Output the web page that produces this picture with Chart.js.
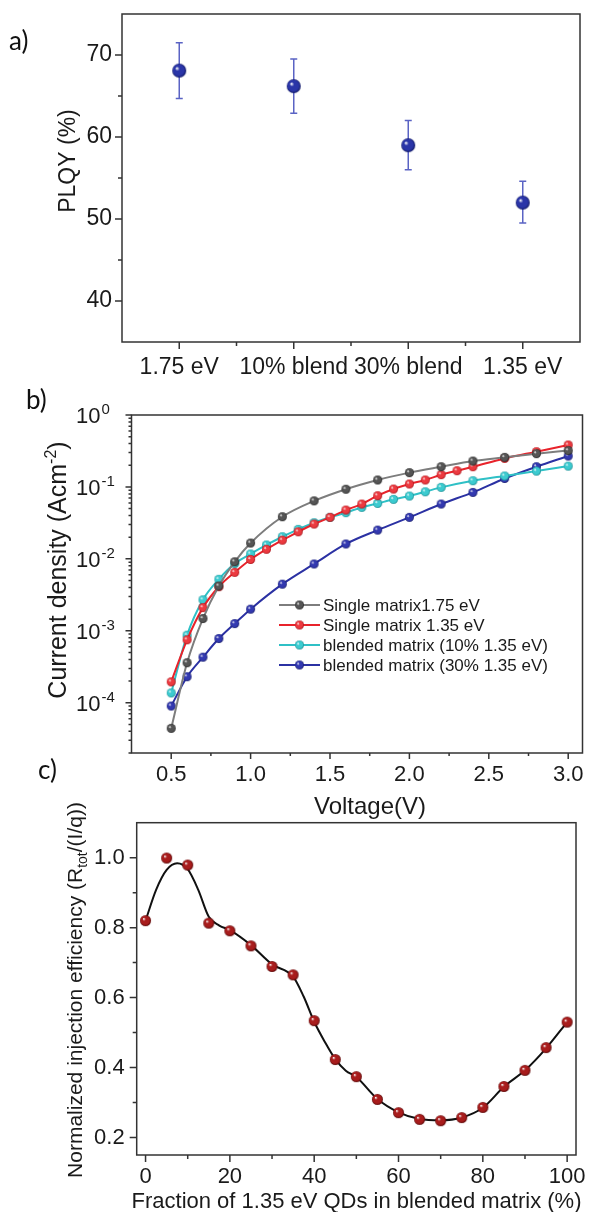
<!DOCTYPE html>
<html>
<head>
<meta charset="utf-8">
<script src="https://cdn.jsdelivr.net/npm/chart.js@4.4.1/dist/chart.umd.min.js"></script>
<style>
  body { margin: 0; background: #fff; }
  #page { position: relative; width: 592px; height: 1212px; overflow: hidden; }
  canvas { position: absolute; left: 0; }
  .tag { position: absolute; font-family: Lato, 'Open Sans', sans-serif; font-size: 26px; line-height: 26px; color: #111; }
</style>
</head>
<body>
<div id="page">
  <canvas id="chartA" width="592" height="395" style="top:0"></canvas>
  <canvas id="chartB" width="592" height="425" style="top:395px"></canvas>
  <canvas id="chartC" width="592" height="427" style="top:785px"></canvas>
  <div class="tag" style="left:9px;top:27px">a)</div>
  <div class="tag" style="left:26px;top:386px">b)</div>
  <div class="tag" style="left:38px;top:756px">c)</div>
</div>
<script>
// ---- panel a: PLQY ----
const plqyLabels = ['1.75 eV', '10% blend', '30% blend', '1.35 eV'];
const plqyValues = [68.1, 66.2, 59.0, 52.0];
const plqyErrLow = [64.7, 62.9, 56.0, 49.5];
const plqyErrHigh = [71.5, 69.5, 62.0, 54.6];
const plqyTicks = [40, 50, 60, 70];

// ---- panel b: J-V curves ----
const voltsGray = [0.5, 0.6, 0.7, 0.8, 0.9, 1.0, 1.2, 1.4, 1.6, 1.8, 2.0, 2.2, 2.4, 2.6, 2.8, 3.0];
const jGray = [4.4e-5, 3.6e-4, 1.48e-3, 4.2e-3, 9.1e-3, 0.0166, 0.0385, 0.064, 0.093, 0.125, 0.158, 0.191, 0.229, 0.258, 0.29, 0.32];
const voltsRed = [0.5, 0.6, 0.7, 0.8, 0.9, 1.0, 1.1, 1.2, 1.3, 1.4, 1.5, 1.6, 1.7, 1.8, 1.9, 2.0, 2.1, 2.2, 2.3, 2.4, 2.6, 2.8, 3.0];
const jRed = [1.95e-4, 7.5e-4, 2.1e-3, 4.1e-3, 6.5e-3, 9.8e-3, 0.0136, 0.0182, 0.0238, 0.0305, 0.0378, 0.0477, 0.0578, 0.0755, 0.0935, 0.110, 0.125, 0.148, 0.168, 0.191, 0.249, 0.309, 0.383];
const voltsCyan = [0.5, 0.6, 0.7, 0.8, 0.9, 1.0, 1.1, 1.2, 1.3, 1.4, 1.5, 1.6, 1.7, 1.8, 1.9, 2.0, 2.1, 2.2, 2.4, 2.6, 2.8, 3.0];
const jCyan = [1.37e-4, 8.7e-4, 2.7e-3, 5.2e-3, 8.6e-3, 0.0117, 0.0156, 0.0203, 0.0257, 0.0318, 0.0378, 0.0439, 0.052, 0.059, 0.0672, 0.0747, 0.0857, 0.0986, 0.122, 0.142, 0.166, 0.195];
const voltsBlue = [0.5, 0.6, 0.7, 0.8, 0.9, 1.0, 1.2, 1.4, 1.6, 1.8, 2.0, 2.2, 2.4, 2.6, 2.8, 3.0];
const jBlue = [9.0e-5, 2.3e-4, 4.3e-4, 7.8e-4, 1.26e-3, 2.0e-3, 4.45e-3, 8.5e-3, 0.0161, 0.0251, 0.0378, 0.0578, 0.084, 0.131, 0.191, 0.269];
const jvLegend = ['Single matrix1.75 eV', 'Single matrix 1.35 eV', 'blended matrix (10% 1.35 eV)', 'blended matrix (30% 1.35 eV)'];
const voltTicks = [0.5, 1.0, 1.5, 2.0, 2.5, 3.0];
const decadeExps = [-4, -3, -2, -1, 0];

// ---- panel c: injection efficiency ----
const fraction = [0, 5, 10, 15, 20, 25, 30, 35, 40, 45, 50, 55, 60, 65, 70, 75, 80, 85, 90, 95, 100];
const efficiency = [0.820, 0.999, 0.979, 0.813, 0.791, 0.748, 0.689, 0.665, 0.534, 0.423, 0.374, 0.309, 0.271, 0.252, 0.248, 0.257, 0.286, 0.346, 0.392, 0.457, 0.530];
const fitX = [0, 2.5, 5, 7.5, 10, 12.5, 15, 17.5, 20, 25, 30, 35, 37.5, 40, 42.5, 45, 47.5, 50, 55, 60, 65, 70, 75, 80, 85, 90, 95, 100];
const fitY = [0.82, 0.908, 0.965, 0.984, 0.967, 0.908, 0.831, 0.806, 0.793, 0.75, 0.695, 0.66, 0.603, 0.531, 0.474, 0.424, 0.391, 0.373, 0.31, 0.272, 0.253, 0.249, 0.257, 0.285, 0.345, 0.392, 0.455, 0.530];
const effTicks = [0.2, 0.4, 0.6, 0.8, 1.0];
const fracTicks = [0, 20, 40, 60, 80, 100];

const FONT = "'Liberation Sans', Arial, sans-serif";
const TEXT = '#1a1a1a';
const AXIS = '#333';

// little shaded ball used as marker
function sphere(r, base, dark) {
  const c = document.createElement('canvas');
  const s = Math.ceil(2 * r + 2);
  c.width = c.height = s;
  const g = c.getContext('2d');
  const m = s / 2;
  const grad = g.createRadialGradient(m - r * 0.35, m - r * 0.35, r * 0.05, m, m, r);
  grad.addColorStop(0, '#ffffff');
  grad.addColorStop(0.28, base);
  grad.addColorStop(0.75, base);
  grad.addColorStop(1, dark);
  g.fillStyle = grad;
  g.beginPath();
  g.arc(m, m, r, 0, Math.PI * 2);
  g.fill();
  return c;
}

function drawRich(ctx, parts, cx, cy, rot) {
  ctx.save();
  ctx.translate(cx, cy);
  ctx.rotate(rot || 0);
  ctx.fillStyle = TEXT;
  ctx.textAlign = 'left';
  ctx.textBaseline = 'alphabetic';
  const widths = parts.map(p => { ctx.font = p.size + 'px ' + FONT; return ctx.measureText(p.text).width; });
  let x = -widths.reduce((a, b) => a + b, 0) / 2;
  const base = parts[0].size * 0.358;
  parts.forEach((p, i) => {
    ctx.font = p.size + 'px ' + FONT;
    ctx.fillText(p.text, x, base + (p.dy || 0));
    x += widths[i];
  });
  ctx.restore();
}

function titles(items) {
  return {
    id: 'richTitles',
    afterDraw(chart) { items.forEach(it => drawRich(chart.ctx, it.parts, it.x, it.y, it.rot)); }
  };
}

// box round the plot plus outward major / minor ticks
function frame(spec) {
  return {
    id: 'frame',
    afterDraw(chart) {
      const { ctx, chartArea: a } = chart;
      const xs = chart.scales.x, ys = chart.scales.y;
      ctx.save();
      ctx.strokeStyle = AXIS;
      ctx.lineWidth = 1.5;
      ctx.strokeRect(a.left, a.top, a.right - a.left, a.bottom - a.top);
      ctx.beginPath();
      const tx = (vals, len) => vals.forEach(v => { const p = xs.getPixelForValue(v); ctx.moveTo(p, a.bottom); ctx.lineTo(p, a.bottom + len); });
      const ty = (vals, len) => vals.forEach(v => { const p = ys.getPixelForValue(v); ctx.moveTo(a.left, p); ctx.lineTo(a.left - len, p); });
      tx(spec.xMajor, spec.major); tx(spec.xMinor, spec.minor);
      ty(spec.yMajor, spec.major); ty(spec.yMinor, spec.minor);
      ctx.stroke();
      ctx.restore();
    }
  };
}

// fixed axis boxes so the plot area lands where the figure has it
const fitX_ = h => s => { s.height = h; s.paddingLeft = 0; s.paddingRight = 0; };
const fitY_ = w => s => { s.width = w; s.paddingTop = 0; s.paddingBottom = 0; };

const baseOpts = { responsive: false, animation: false, events: [], devicePixelRatio: 1 };
const noGrid = { display: false, drawTicks: false };
const tickFont = size => ({ family: FONT, size: size });

// ---------------- chart a ----------------
const blueBall = sphere(7, '#2a35a8', '#121a66');
const errorBars = {
  id: 'errorBars',
  beforeDatasetsDraw(chart) {
    const { ctx } = chart;
    const xs = chart.scales.x, ys = chart.scales.y;
    ctx.save();
    ctx.strokeStyle = '#5a63c4';
    ctx.lineWidth = 1.5;
    ctx.beginPath();
    plqyValues.forEach((v, i) => {
      const px = xs.getPixelForValue(i);
      const top = ys.getPixelForValue(plqyErrHigh[i]);
      const bot = ys.getPixelForValue(plqyErrLow[i]);
      ctx.moveTo(px, top); ctx.lineTo(px, bot);
      ctx.moveTo(px - 3.5, top); ctx.lineTo(px + 3.5, top);
      ctx.moveTo(px - 3.5, bot); ctx.lineTo(px + 3.5, bot);
    });
    ctx.stroke();
    ctx.restore();
  }
};

new Chart(document.getElementById('chartA'), {
  type: 'line',
  data: {
    labels: plqyLabels,
    datasets: [{ data: plqyValues, showLine: false, pointStyle: blueBall, pointRadius: 7 }]
  },
  options: {
    ...baseOpts,
    layout: { padding: { top: 14, right: 12, left: 0, bottom: 0 } },
    plugins: { legend: { display: false }, tooltip: { enabled: false } },
    scales: {
      x: {
        type: 'category', offset: true, grid: noGrid, border: { display: false },
        ticks: { font: tickFont(23), color: TEXT, padding: 12, maxRotation: 0, autoSkip: false },
        afterFit: fitX_(395 - 342)
      },
      y: {
        min: 35, max: 75, grid: noGrid, border: { display: false },
        ticks: { font: tickFont(23), color: TEXT, padding: 10 },
        afterBuildTicks: s => { s.ticks = plqyTicks.map(v => ({ value: v })); },
        afterFit: fitY_(122)
      }
    }
  },
  plugins: [
    errorBars,
    frame({ xMajor: [0, 1, 2, 3], xMinor: [0.5, 1.5, 2.5], yMajor: plqyTicks, yMinor: [45, 55, 65], major: 7, minor: 4 }),
    titles([{ parts: [{ text: 'PLQY (%)', size: 23 }], x: 67, y: 161, rot: -Math.PI / 2 }])
  ]
});

// ---------------- chart b ----------------
const jvSets = [
  { x: voltsGray, y: jGray, line: '#7d7d7d', ball: sphere(4.5, '#555555', '#222222') },
  { x: voltsRed, y: jRed, line: '#e8232b', ball: sphere(4.5, '#ec3a40', '#a80f15') },
  { x: voltsCyan, y: jCyan, line: '#2fc0c6', ball: sphere(4.5, '#3ccbd0', '#168a90') },
  { x: voltsBlue, y: jBlue, line: '#2b31a3', ball: sphere(4.5, '#3339b0', '#151a6a') }
];

const logLabels = {
  id: 'logLabels',
  afterDraw(chart) {
    const { ctx } = chart;
    const ys = chart.scales.y;
    ctx.save();
    ctx.fillStyle = TEXT;
    ctx.textBaseline = 'alphabetic';
    ctx.textAlign = 'left';
    decadeExps.forEach(e => {
      const py = ys.getPixelForValue(Math.pow(10, e));
      ctx.font = '22px ' + FONT;
      ctx.fillText('10', 76, py + 8);
      const w = ctx.measureText('10').width;
      ctx.font = '15px ' + FONT;
      ctx.fillText(e === 0 ? '0' : '-' + (-e), 76 + w + 1, py - 1);
    });
    ctx.restore();
  }
};

const jvLegendPlugin = {
  id: 'jvLegend',
  afterDraw(chart) {
    const { ctx } = chart;
    ctx.save();
    chart.data.datasets.forEach((ds, i) => {
      const y = 210 + i * 20;
      ctx.strokeStyle = ds.borderColor;
      ctx.lineWidth = 2;
      ctx.beginPath(); ctx.moveTo(279, y); ctx.lineTo(320, y); ctx.stroke();
      const img = ds.pointStyle;
      ctx.drawImage(img, 299.5 - img.width / 2, y - img.height / 2);
      ctx.fillStyle = TEXT;
      ctx.font = '17px ' + FONT;
      ctx.textBaseline = 'middle';
      ctx.fillText(jvLegend[i], 323, y + 1);
    });
    ctx.restore();
  }
};

const minorLog = [];
[-5, -4, -3, -2, -1].forEach(e => { for (let k = 2; k <= 9; k++) { const v = k * Math.pow(10, e); if (v >= 2e-5) minorLog.push(v); } });

new Chart(document.getElementById('chartB'), {
  type: 'scatter',
  data: {
    datasets: jvSets.map(s => ({
      data: s.x.map((v, i) => ({ x: v, y: s.y[i] })),
      showLine: true, borderColor: s.line, borderWidth: 2,
      cubicInterpolationMode: 'monotone',
      pointStyle: s.ball, pointRadius: 4.5
    }))
  },
  options: {
    ...baseOpts,
    layout: { padding: { top: 20, right: 9.5, left: 0, bottom: 0 } },
    plugins: { legend: { display: false }, tooltip: { enabled: false } },
    scales: {
      x: {
        type: 'linear', min: 0.25, max: 3.09, grid: noGrid, border: { display: false },
        ticks: { font: tickFont(22), color: TEXT, padding: 9, maxRotation: 0, callback: v => Number(v).toFixed(1) },
        afterBuildTicks: s => { s.ticks = voltTicks.map(v => ({ value: v })); },
        afterFit: fitX_(425 - 358)
      },
      y: {
        type: 'logarithmic', min: 2e-5, max: 1, grid: noGrid, border: { display: false },
        ticks: { display: false },
        afterBuildTicks: s => { s.ticks = decadeExps.map(e => ({ value: Math.pow(10, e) })); },
        afterFit: fitY_(131.5)
      }
    }
  },
  plugins: [
    frame({ xMajor: voltTicks, xMinor: [0.75, 1.25, 1.75, 2.25, 2.75], yMajor: decadeExps.map(e => Math.pow(10, e)), yMinor: minorLog, major: 6, minor: 3 }),
    logLabels,
    jvLegendPlugin,
    titles([
      { parts: [{ text: 'Current density (Acm', size: 25 }, { text: '-2', size: 16, dy: -10 }, { text: ')', size: 25 }], x: 57.5, y: 175, rot: -Math.PI / 2 },
      { parts: [{ text: 'Voltage(V)', size: 24 }], x: 370, y: 410.5 }
    ])
  ]
});

// ---------------- chart c ----------------
const redBall = sphere(5.5, '#a81c1c', '#5a0707');

new Chart(document.getElementById('chartC'), {
  type: 'scatter',
  data: {
    datasets: [
      { data: fraction.map((f, i) => ({ x: f, y: efficiency[i] })), pointStyle: redBall, pointRadius: 5.5, order: 0 },
      { data: fitX.map((f, i) => ({ x: f, y: fitY[i] })), showLine: true, borderColor: '#111', borderWidth: 2,
        pointRadius: 0, cubicInterpolationMode: 'monotone', order: 1 }
    ]
  },
  options: {
    ...baseOpts,
    layout: { padding: { top: 37.7, right: 16, left: 0, bottom: 0 } },
    plugins: { legend: { display: false }, tooltip: { enabled: false } },
    scales: {
      x: {
        type: 'linear', min: -2.1, max: 102.1, grid: noGrid, border: { display: false },
        ticks: { font: tickFont(22), color: TEXT, padding: 8.5, maxRotation: 0, callback: v => String(v) },
        afterBuildTicks: s => { s.ticks = fracTicks.map(v => ({ value: v })); },
        afterFit: fitX_(427 - 370)
      },
      y: {
        min: 0.15, max: 1.1, grid: noGrid, border: { display: false },
        ticks: { font: tickFont(22), color: TEXT, padding: 12, callback: v => Number(v).toFixed(1) },
        afterBuildTicks: s => { s.ticks = effTicks.map(v => ({ value: v })); },
        afterFit: fitY_(136.7)
      }
    }
  },
  plugins: [
    frame({ xMajor: fracTicks, xMinor: [10, 30, 50, 70, 90], yMajor: effTicks, yMinor: [0.3, 0.5, 0.7, 0.9], major: 7, minor: 4 }),
    titles([
      { parts: [{ text: 'Normalized injection efficiency (R', size: 21 }, { text: 'tot', size: 14, dy: 5 }, { text: '/(I/q))', size: 21 }], x: 74, y: 205, rot: -Math.PI / 2 },
      { parts: [{ text: 'Fraction of 1.35 eV QDs in blended matrix (%)', size: 22 }], x: 356.5, y: 415 }
    ])
  ]
});
</script>
</body>
</html>
